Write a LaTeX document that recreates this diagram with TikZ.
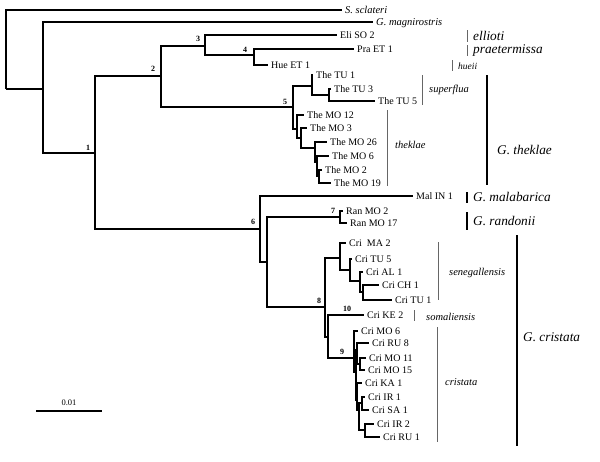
\documentclass[tikz,border=0pt]{standalone}
\usepackage{fontspec}
\setmainfont{Liberation Serif}
\begin{document}
\begin{tikzpicture}[x=1pt,y=-1pt,
  br/.style={line width=1.5pt, line join=miter},
  tip/.style={font=\fontsize{10}{11}\selectfont, anchor=west, inner xsep=3pt, inner ysep=0pt, text height=0.68em, text depth=0pt},
  itip/.style={tip, font=\fontsize{10.5}{11}\selectfont\itshape},
  boot/.style={font=\fontsize{8}{9}\selectfont\bfseries, inner sep=0pt},
  subsp/.style={font=\fontsize{10.5}{11}\selectfont\itshape, anchor=west, inner sep=0pt},
  small/.style={font=\fontsize{9.5}{10}\selectfont\itshape, anchor=west, inner sep=0pt},
  big/.style={font=\fontsize{13.3}{14}\selectfont\itshape, anchor=west, inner sep=0pt},
  thin/.style={line width=0.7pt, black!60},
  thick/.style={line width=2.2pt}]
\useasboundingbox (0,0) rectangle (600,461);
% internal nodes
\coordinate (root) at (6,89);
\coordinate (nG) at (43,89);
\coordinate (n1) at (95,153);
\coordinate (n2) at (161,76);
\coordinate (n3) at (205,46);
\coordinate (n4) at (254,55);
\coordinate (n5) at (293,107);
\coordinate (nSup) at (312,86);
\coordinate (nTU) at (329,95);
\coordinate (nT1) at (297,129);
\coordinate (nT2) at (301,138);
\coordinate (nT3) at (315,148);
\coordinate (nT4) at (317,162);
\coordinate (nT5) at (319,176);
\coordinate (n6) at (260,229);
\coordinate (n6b) at (267,262);
\coordinate (n7) at (340,217);
\coordinate (n8) at (325,307);
\coordinate (nS1) at (340,258);
\coordinate (nS2) at (350,270);
\coordinate (nS3) at (360,281);
\coordinate (nS4) at (363,292);
\coordinate (nX) at (328,337);
\coordinate (n9) at (354,358);
\coordinate (nB) at (356,372);
\coordinate (nC) at (357,350);
\coordinate (nE) at (360,364);
\coordinate (nD) at (357,400);
\coordinate (nD2) at (359,410);
\coordinate (nF) at (362,403);
\coordinate (nG2) at (365,430);
% tips
\node[itip] (scl) at (342,10) {S. sclateri};
\node[itip] (mag) at (373,22) {G. magnirostris};
\node[tip] (eli) at (337,35) {Eli SO 2};
\node[tip] (pra) at (354,49) {Pra ET 1};
\node[tip] (hue) at (268,65) {Hue ET 1};
\node[tip] (tu1) at (313,75) {The TU 1};
\node[tip] (tu3) at (331,89) {The TU 3};
\node[tip] (tu5) at (375,101) {The TU 5};
\node[tip] (mo12) at (304,115) {The MO 12};
\node[tip] (mo3) at (307,128) {The MO 3};
\node[tip] (mo26) at (327,142) {The MO 26};
\node[tip] (mo6) at (329,156) {The MO 6};
\node[tip] (mo2) at (322,170) {The MO 2};
\node[tip] (mo19) at (331,183) {The MO 19};
\node[tip] (mal) at (413,196) {Mal IN 1};
\node[tip] (ran2) at (343,211) {Ran MO 2};
\node[tip] (ran17) at (347,223) {Ran MO 17};
\node[tip] (ma2) at (346,243) {Cri\ \ MA 2};
\node[tip] (tu5c) at (352,259) {Cri TU 5};
\node[tip] (al1) at (363,272) {Cri AL 1};
\node[tip] (ch1) at (379,285) {Cri CH 1};
\node[tip] (tu1c) at (392,300) {Cri TU 1};
\node[tip] (ke2) at (364,315) {Cri KE 2};
\node[tip] (mo6c) at (358,331) {Cri MO 6};
\node[tip] (ru8) at (369,343) {Cri RU 8};
\node[tip] (mo11) at (366,358) {Cri MO 11};
\node[tip] (mo15) at (365,370) {Cri MO 15};
\node[tip] (ka1) at (362,383) {Cri KA 1};
\node[tip] (ir1) at (365,397) {Cri IR 1};
\node[tip] (sa1) at (369,410) {Cri SA 1};
\node[tip] (ir2) at (374,424) {Cri IR 2};
\node[tip] (ru1) at (380,437) {Cri RU 1};
% branches
\foreach \p/\c in {root/scl, root/nG, nG/mag, nG/n1, n1/n2, n1/n6, n2/n3, n2/n5,
  n3/eli, n3/n4, n4/pra, n4/hue, n5/nSup, n5/nT1, nSup/tu1, nSup/nTU, nTU/tu3, nTU/tu5,
  nT1/mo12, nT1/nT2, nT2/mo3, nT2/nT3, nT3/mo26, nT3/nT4, nT4/mo6, nT4/nT5, nT5/mo2, nT5/mo19,
  n6/mal, n6/n6b, n6b/n7, n6b/n8, n7/ran2, n7/ran17, n8/nS1, n8/nX,
  nS1/ma2, nS1/nS2, nS2/tu5c, nS2/nS3, nS3/al1, nS3/nS4, nS4/ch1, nS4/tu1c,
  nX/ke2, nX/n9, n9/mo6c, n9/nB, nB/nC, nB/nD, nC/ru8, nC/nE, nE/mo11, nE/mo15,
  nD/ka1, nD/nD2, nD2/nF, nD2/nG2, nF/ir1, nF/sa1, nG2/ir2, nG2/ru1}
  \draw[br] (\p) |- (\c);
% bootstrap labels
\node[boot] (b1) at (88,148) {1};
\node[boot] (b2) at (153,69) {2};
\node[boot] (b3) at (198,39) {3};
\node[boot] (b4) at (245,50) {4};
\node[boot] (b5) at (285,102) {5};
\node[boot] (b6) at (253,222) {6};
\node[boot] (b7) at (333,211) {7};
\node[boot] (b8) at (319,301) {8};
\node[boot] (b9) at (342,352) {9};
\node[boot] (b10) at (347,309) {10};
% subspecies bars
\draw[thin] (467,30) -- (467,42);
\node[big] (lell) at (473,36) {ellioti};
\draw[thin] (467,45) -- (467,56);
\node[big] (lpra) at (473,51) {praetermissa};
\draw[thin] (452,60) -- (452,71);
\node[small] (lhue) at (458,66) {hueii};
\draw[thin] (422,75) -- (422,105);
\node[subsp] (lsup) at (429,90) {superflua};
\draw[thin] (387,110) -- (387,186);
\node[subsp] (lthe) at (395,145) {theklae};
\draw[thin] (438,242) -- (438,300);
\node[subsp] (lsen) at (449,273) {senegallensis};
\draw[thin] (414,310) -- (414,321);
\node[subsp] (lsom) at (426,317) {somaliensis};
\draw[thin] (437,327) -- (437,442);
\node[subsp] (lcri) at (445,382) {cristata};
% species bars
\draw[thick] (487,75) -- (487,185);
\node[big] (sthe) at (497,150) {G. theklae};
\draw[thick] (467,192) -- (467,203);
\node[big] (smal) at (473,197) {G. malabarica};
\draw[thick] (467,212) -- (467,230);
\node[big] (sran) at (473,221) {G. randonii};
\draw[thick] (517,235) -- (517,446);
\node[big] (scri) at (523,337) {G. cristata};
% scale bar
\coordinate (sb1) at (36,411);
\coordinate (sb2) at (102,411);
\draw[line width=1.3pt] (sb1) -- (sb2);
\node[font=\fontsize{8.5}{9}\selectfont, inner sep=0pt] (sbl) at (69,403) {0.01};
\end{tikzpicture}
\end{document}
